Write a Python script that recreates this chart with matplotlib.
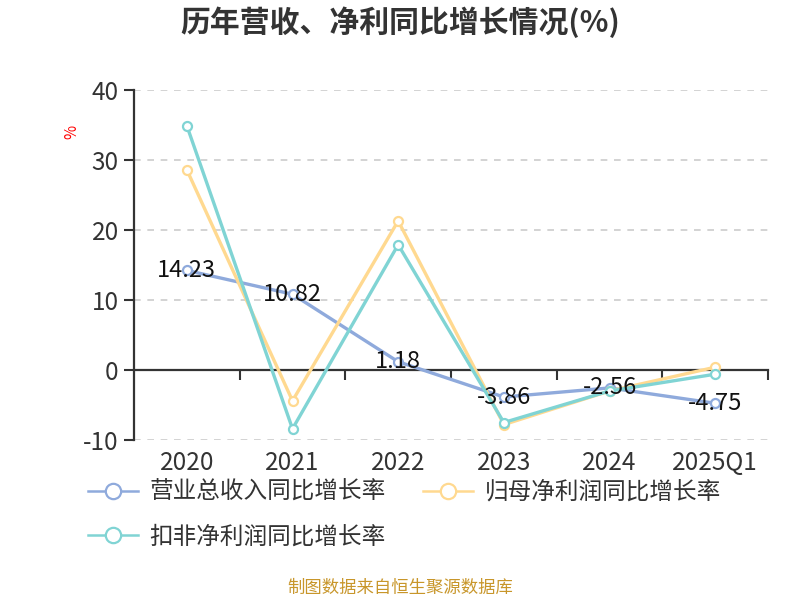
import matplotlib
matplotlib.use('Agg')
import matplotlib.pyplot as plt
import numpy as np

plt.rcParams['font.family'] = ['Noto Sans CJK SC', 'DejaVu Sans']
plt.rcParams['axes.unicode_minus'] = False

years = ['2020', '2021', '2022', '2023', '2024', '2025Q1']
revenue = [14.23, 10.82, 1.18, -3.86, -2.56, -4.75]
net_profit = [28.6, -4.4, 21.3, -7.8, -3.0, 0.4]
deducted = [34.9, -8.4, 17.9, -7.5, -3.0, -0.6]
names = ['营业总收入同比增长率', '归母净利润同比增长率', '扣非净利润同比增长率']
colors = ['#8faadc', '#ffd990', '#80d4d4']

fig = plt.figure(figsize=(8, 6), dpi=100)
ax = fig.add_axes([134/800, 1-440/600, 634/800, 350/600])

x = np.arange(len(years))
lines = []
for vals, c, n in zip([revenue, net_profit, deducted], colors, names):
    l, = ax.plot(x, vals, color=c, lw=2.4, marker='o', ms=6.5, mfc='white', mec=c, mew=1.6, label=n)
    lines.append(l)

#data labels on revenue
for xi, v in zip(x, revenue):
    ax.text(xi, v, f'{v:.2f}', ha='center', va='center', fontsize=17, color='#111', zorder=10)

ax.set_xlim(-0.5, len(years)-0.5)
ax.set_ylim(-10, 40)
ax.set_yticks(np.arange(-10, 41, 10))
ax.set_xticks(x)
ax.set_xticklabels(years)
ax.tick_params(axis='x', length=0, pad=7, labelsize=17.5, colors='#333')
ax.tick_params(axis='y', length=7, width=1.5, pad=4, labelsize=17.5, colors='#333')
ax.grid(axis='y', color='#cccccc', ls=(0, (4, 4)), lw=1.2)
ax.set_axisbelow(True)
for t, g in zip(ax.get_yticks(), ax.yaxis.get_gridlines()):
    if t == 0:
        g.set_visible(False)
for s in ['top', 'right', 'bottom']:
    ax.spines[s].set_visible(False)
ax.spines['left'].set_color('#333')
ax.spines['left'].set_linewidth(1.6)

#zero line with boundary ticks
sec = ax.secondary_xaxis(0.2)
sec.set_xticks(np.arange(0.5, len(years), 1))
sec.tick_params(direction='out', length=7, width=1.5, color='#333', labelbottom=False, labeltop=False)
sec.spines['bottom'].set_color('#333')
sec.spines['bottom'].set_linewidth(1.6)

fig.text(0.5, 1-22/600, '历年营收、净利同比增长情况(%)', ha='center', va='center',
         fontsize=21.5, fontweight='bold', color='#333')
fig.text(72/800, 1-132/600, '%', rotation=90, ha='center', va='center', color='red', fontsize=11)

order = [0, 2, 1]
leg = ax.legend([lines[i] for i in order], [names[i] for i in order],
                loc='upper left', bbox_to_anchor=(88/800, 1-481/600), bbox_transform=fig.transFigure,
                ncol=2, frameon=False, fontsize=17, handlelength=2.1, handletextpad=0.5,
                columnspacing=1.6, labelspacing=0.9, borderpad=0, borderaxespad=0,
                markerscale=1.7, labelcolor='#333')
for h in leg.legend_handles:
    h.set_linewidth(1.8)

fig.text(0.5, 1-588/600, '制图数据来自恒生聚源数据库', ha='center', va='center', fontsize=12.5, color='#c8962a')

fig.savefig('out.png', dpi=100)
